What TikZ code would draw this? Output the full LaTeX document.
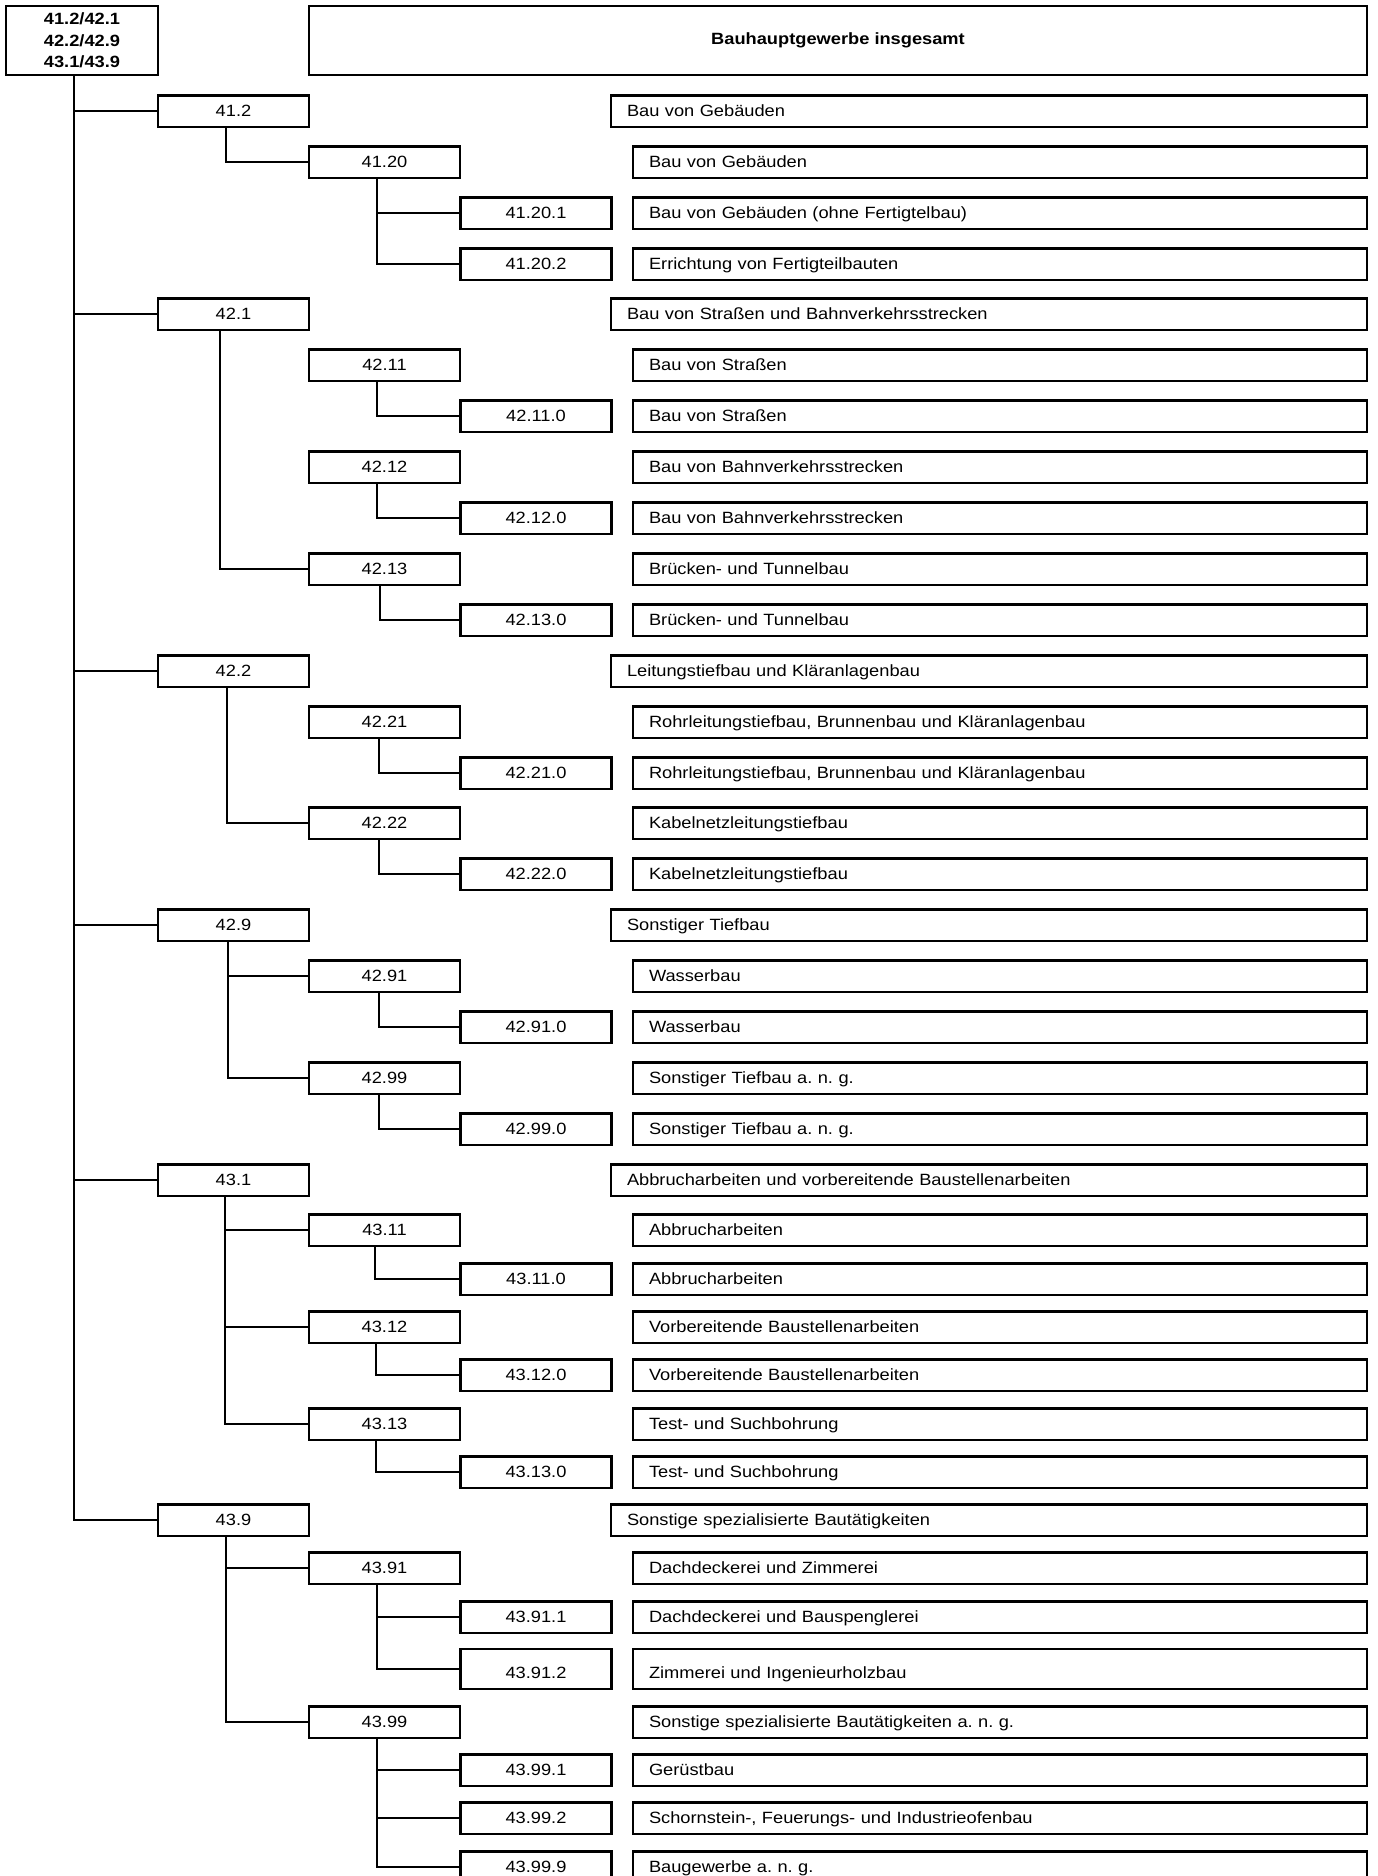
\documentclass[tikz,border=0pt]{standalone}
\usepackage{fontspec}
\setmainfont[FakeStretch=1.12]{Liberation Sans}
\frenchspacing
\begin{document}
\begin{tikzpicture}[x=1pt, y=-1pt, line width=1.8pt,
  every node/.style={font=\fontsize{16.3}{21.3}\selectfont},
  rowbox/.style={rectangle,draw,line width=2.5pt,outer sep=0pt,inner ysep=0pt,text height=11.5,text depth=0pt},
  code node/.style={rowbox,minimum width=151,minimum height=31.5,inner xsep=0pt},
  desc one/.style={rowbox,anchor=west,minimum height=31.5,inner xsep=16,text width=724,align=left},
  desc two/.style={desc one,text width=702},
  tall row/.style={minimum height=40,text height=19.5}]
\useasboundingbox (0,0) rectangle (1378,1876);
% head
\node [draw,line width=2.5pt,outer sep=0pt,minimum width=152,minimum height=69,align=center,font=\fontsize{16.3}{21.3}\selectfont\bfseries] (top) at (82,40.5) {41.2/42.1\\42.2/42.9\\43.1/43.9};
\node [draw,line width=2.5pt,outer sep=0pt,minimum width=1058,minimum height=69,font=\fontsize{16.3}{21.3}\selectfont\bfseries] (title) at (838,40.5) {Bauhauptgewerbe insgesamt};
% 41.2
\node [code node] (n412) at (233.5,111) {41.2};
\node [desc one] (d412) at (611,111) {Bau von Gebäuden};
\node [code node] (n4120) at (384.5,162) {41.20};
\node [desc two] (d4120) at (633,162) {Bau von Gebäuden};
\node [code node] (n41201) at (536,213) {41.20.1};
\node [desc two] (d41201) at (633,213) {Bau von Gebäuden (ohne Fertigtelbau)};
\node [code node] (n41202) at (536,264) {41.20.2};
\node [desc two] (d41202) at (633,264) {Errichtung von Fertigteilbauten};
% 42.1
\node [code node] (n421) at (233.5,314) {42.1};
\node [desc one] (d421) at (611,314) {Bau von Straßen und Bahnverkehrsstrecken};
\node [code node] (n4211) at (384.5,365) {42.11};
\node [desc two] (d4211) at (633,365) {Bau von Straßen};
\node [code node] (n42110) at (536,416) {42.11.0};
\node [desc two] (d42110) at (633,416) {Bau von Straßen};
\node [code node] (n4212) at (384.5,467) {42.12};
\node [desc two] (d4212) at (633,467) {Bau von Bahnverkehrsstrecken};
\node [code node] (n42120) at (536,518) {42.12.0};
\node [desc two] (d42120) at (633,518) {Bau von Bahnverkehrsstrecken};
\node [code node] (n4213) at (384.5,569) {42.13};
\node [desc two] (d4213) at (633,569) {Brücken- und Tunnelbau};
\node [code node] (n42130) at (536,620) {42.13.0};
\node [desc two] (d42130) at (633,620) {Brücken- und Tunnelbau};
% 42.2
\node [code node] (n422) at (233.5,671) {42.2};
\node [desc one] (d422) at (611,671) {Leitungstiefbau und Kläranlagenbau};
\node [code node] (n4221) at (384.5,722) {42.21};
\node [desc two] (d4221) at (633,722) {Rohrleitungstiefbau, Brunnenbau und Kläranlagenbau};
\node [code node] (n42210) at (536,773) {42.21.0};
\node [desc two] (d42210) at (633,773) {Rohrleitungstiefbau, Brunnenbau und Kläranlagenbau};
\node [code node] (n4222) at (384.5,823) {42.22};
\node [desc two] (d4222) at (633,823) {Kabelnetzleitungstiefbau};
\node [code node] (n42220) at (536,874) {42.22.0};
\node [desc two] (d42220) at (633,874) {Kabelnetzleitungstiefbau};
% 42.9
\node [code node] (n429) at (233.5,925) {42.9};
\node [desc one] (d429) at (611,925) {Sonstiger Tiefbau};
\node [code node] (n4291) at (384.5,976) {42.91};
\node [desc two] (d4291) at (633,976) {Wasserbau};
\node [code node] (n42910) at (536,1027) {42.91.0};
\node [desc two] (d42910) at (633,1027) {Wasserbau};
\node [code node] (n4299) at (384.5,1078) {42.99};
\node [desc two] (d4299) at (633,1078) {Sonstiger Tiefbau a. n. g.};
\node [code node] (n42990) at (536,1129) {42.99.0};
\node [desc two] (d42990) at (633,1129) {Sonstiger Tiefbau a. n. g.};
% 43.1
\node [code node] (n431) at (233.5,1180) {43.1};
\node [desc one] (d431) at (611,1180) {Abbrucharbeiten und vorbereitende Baustellenarbeiten};
\node [code node] (n4311) at (384.5,1230) {43.11};
\node [desc two] (d4311) at (633,1230) {Abbrucharbeiten};
\node [code node] (n43110) at (536,1279) {43.11.0};
\node [desc two] (d43110) at (633,1279) {Abbrucharbeiten};
\node [code node] (n4312) at (384.5,1327) {43.12};
\node [desc two] (d4312) at (633,1327) {Vorbereitende Baustellenarbeiten};
\node [code node] (n43120) at (536,1375) {43.12.0};
\node [desc two] (d43120) at (633,1375) {Vorbereitende Baustellenarbeiten};
\node [code node] (n4313) at (384.5,1424) {43.13};
\node [desc two] (d4313) at (633,1424) {Test- und Suchbohrung};
\node [code node] (n43130) at (536,1472) {43.13.0};
\node [desc two] (d43130) at (633,1472) {Test- und Suchbohrung};
% 43.9
\node [code node] (n439) at (233.5,1520) {43.9};
\node [desc one] (d439) at (611,1520) {Sonstige spezialisierte Bautätigkeiten};
\node [code node] (n4391) at (384.5,1568) {43.91};
\node [desc two] (d4391) at (633,1568) {Dachdeckerei und Zimmerei};
\node [code node] (n43911) at (536,1617) {43.91.1};
\node [desc two] (d43911) at (633,1617) {Dachdeckerei und Bauspenglerei};
\node [code node,tall row] (n43912) at (536,1669) {43.91.2};
\node [desc two,tall row] (d43912) at (633,1669) {Zimmerei und Ingenieurholzbau};
\node [code node] (n4399) at (384.5,1722) {43.99};
\node [desc two] (d4399) at (633,1722) {Sonstige spezialisierte Bautätigkeiten a. n. g.};
\node [code node] (n43991) at (536,1770) {43.99.1};
\node [desc two] (d43991) at (633,1770) {Gerüstbau};
\node [code node] (n43992) at (536,1818) {43.99.2};
\node [desc two] (d43992) at (633,1818) {Schornstein-, Feuerungs- und Industrieofenbau};
\node [code node] (n43999) at (536,1867) {43.99.9};
\node [desc two] (d43999) at (633,1867) {Baugewerbe a. n. g.};
% connectors
\foreach \kid in {n412,n421,n422,n429,n431,n439}
  \draw ([xshift=68pt]top.south west) |- (\kid.west);
\draw ([xshift=68pt]n412.south west) |- (n4120.west);
\draw ([xshift=68pt]n4120.south west) |- (n41201.west);
\draw ([xshift=68pt]n4120.south west) |- (n41202.west);
\draw ([xshift=62pt]n421.south west) |- (n4213.west);
\draw ([xshift=68pt]n4211.south west) |- (n42110.west);
\draw ([xshift=68pt]n4212.south west) |- (n42120.west);
\draw ([xshift=71pt]n4213.south west) |- (n42130.west);
\draw ([xshift=69pt]n422.south west) |- (n4222.west);
\draw ([xshift=70pt]n4221.south west) |- (n42210.west);
\draw ([xshift=70pt]n4222.south west) |- (n42220.west);
\draw ([xshift=70pt]n429.south west) |- (n4291.west);
\draw ([xshift=70pt]n429.south west) |- (n4299.west);
\draw ([xshift=70pt]n4291.south west) |- (n42910.west);
\draw ([xshift=70pt]n4299.south west) |- (n42990.west);
\draw ([xshift=67pt]n431.south west) |- (n4311.west);
\draw ([xshift=67pt]n431.south west) |- (n4312.west);
\draw ([xshift=67pt]n431.south west) |- (n4313.west);
\draw ([xshift=66pt]n4311.south west) |- (n43110.west);
\draw ([xshift=67pt]n4312.south west) |- (n43120.west);
\draw ([xshift=67pt]n4313.south west) |- (n43130.west);
\draw ([xshift=68pt]n439.south west) |- (n4391.west);
\draw ([xshift=68pt]n439.south west) |- (n4399.west);
\foreach \kid in {n43911,n43912}
  \draw ([xshift=68pt]n4391.south west) |- (\kid.west);
\foreach \kid in {n43991,n43992,n43999}
  \draw ([xshift=68pt]n4399.south west) |- (\kid.west);
\end{tikzpicture}
\end{document}
